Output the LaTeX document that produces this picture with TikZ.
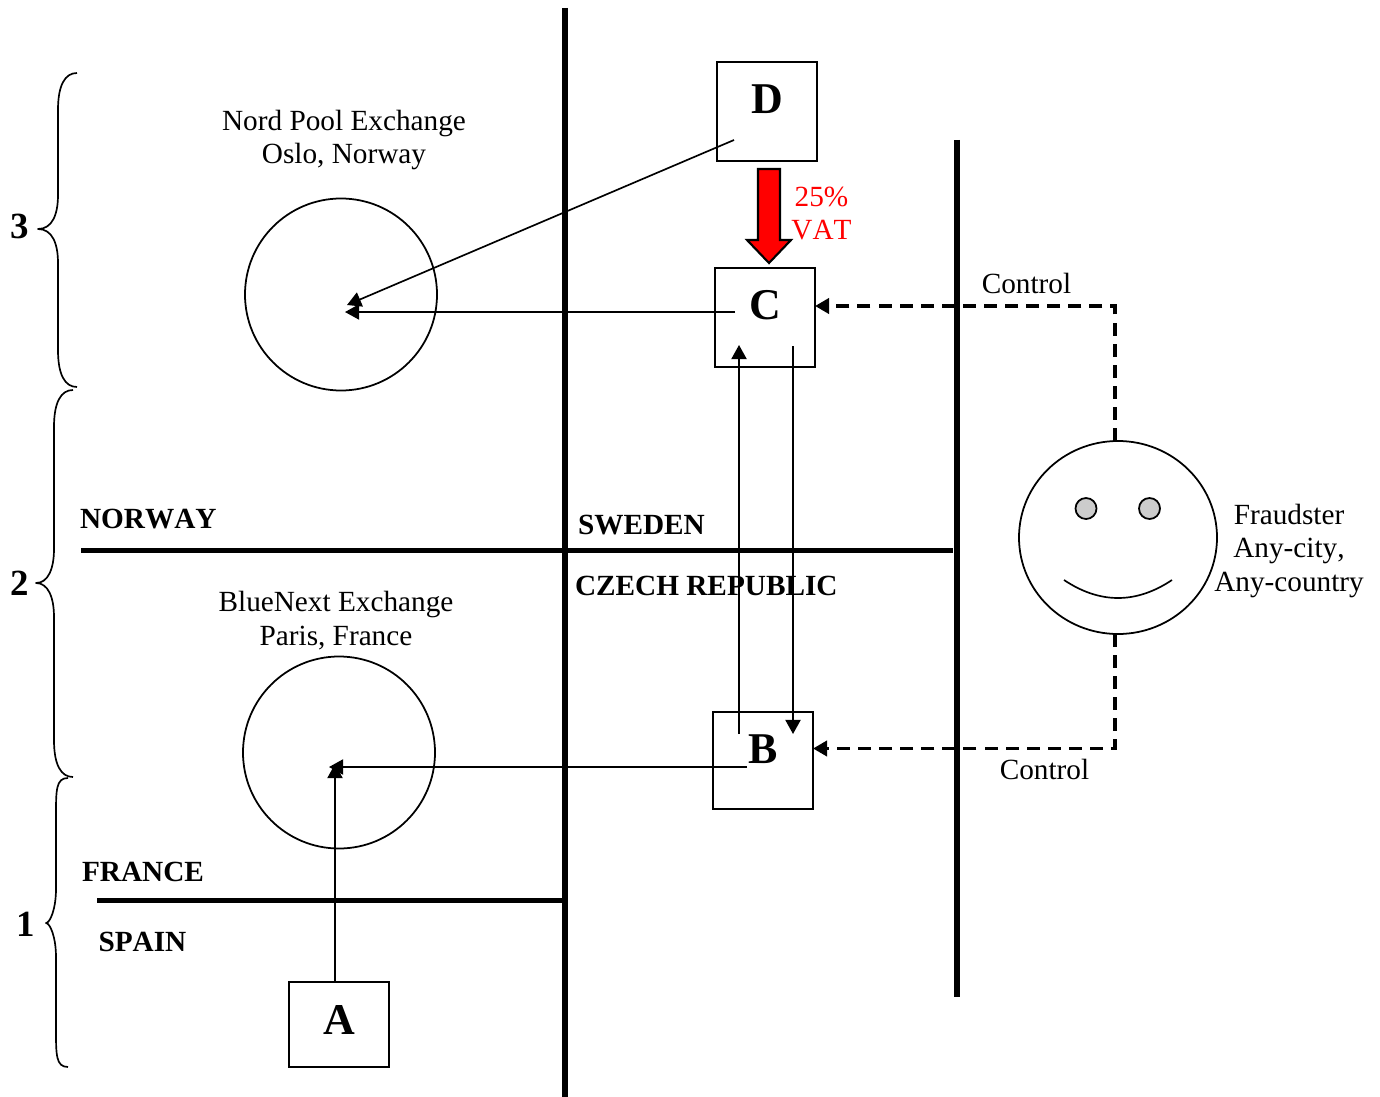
\documentclass[tikz,border=0pt]{standalone}
\usepackage{fontspec}
\setmainfont[Kerning=Off]{Liberation Serif}
\usetikzlibrary{arrows.meta,shapes.geometric}
\newcommand{\curlybrace}[6]{% x of spine, top, tip height, bottom, x of tip, x of ends
 \draw[bracket] (#6,#2) .. controls (#6-12,#2) and (#1,#2+12) .. (#1,#2+37) -- (#1,#3-34)
  .. controls (#1,#3-14) and (#1-6,#3) .. (#5,#3) .. controls (#1-6,#3) and (#1,#3+14) .. (#1,#3+34)
  -- (#1,#4-37) .. controls (#1,#4-12) and (#6-12,#4) .. (#6,#4);}
\tikzset{
 txt/.style={font=\fontsize{16.65}{19.3}\selectfont,align=center,inner sep=0pt,outer sep=0pt},
 country/.style={txt,font=\fontsize{16.65}{19.3}\selectfont\bfseries,anchor=west},
 letter/.style={txt,font=\fontsize{25}{28}\selectfont\bfseries},
 levelno/.style={txt,font=\fontsize{21}{24}\selectfont\bfseries},
 tradebox/.style={draw,line width=1pt,inner sep=0pt,outer sep=0pt},
 exchange/.style={draw,circle,line width=1pt,minimum size=3.84cm,inner sep=0pt,outer sep=0pt},
 border/.style={line width=2.9pt},
 trade/.style={line width=0.95pt,-{Triangle[length=8pt,width=8.6pt]}},
 ctrl/.style={line width=2pt,dash pattern=on 7.4pt off 4.6pt,-{Triangle[length=8pt,width=8.6pt]}},
 bracket/.style={line width=0.95pt,line join=round},
}
\begin{document}
\begin{tikzpicture}[x=0.2mm,y=-0.2mm]
 \useasboundingbox (0,0) rectangle (1380,1097);
 % borders
 \draw[border] (565,8) -- (565,1097);
 \draw[border] (957,140) -- (957,997);
 \draw[border] (81,550.5) -- (953,550.5);
 \draw[border] (97,900.5) -- (565,900.5);
 \node[country] (norway) at (80,519.5) {NORWAY};
 \node[country] (sweden) at (578,525.5) {SWEDEN};
 \node[country] (czech) at (575,585.5) {CZECH REPUBLIC};
 \node[country] (france) at (82,871.5) {FRANCE};
 \node[country] (spain) at (98.5,941.5) {SPAIN};
 % level braces
 \curlybrace{58}{73}{229}{387}{38}{77}
 \curlybrace{54}{390}{583}{777}{36}{73}
 \curlybrace{56}{778}{923}{1067}{46}{68}
 \node[levelno] (lvlthree) at (19.5,226) {3};
 \node[levelno] (lvltwo) at (19.5,583) {2};
 \node[levelno] (lvlone) at (25.5,924) {1};
 % exchanges
 \node[exchange] (oslo) at (341,294.5) {};
 \node[exchange] (paris) at (339,752.5) {};
 \node[txt] (oslotxt) at (344,140) {Nord Pool Exchange\\Oslo, Norway};
 \node[txt] (paristxt) at (336,620.5) {BlueNext Exchange\\Paris, France};
 % companies
 \node[tradebox,minimum width=2cm,minimum height=1.98cm] (boxD) at (767,111.5) {};
 \node[tradebox,minimum width=2cm,minimum height=1.98cm] (boxC) at (765,317.5) {};
 \node[tradebox,minimum width=2cm,minimum height=1.94cm] (boxB) at (763,760.5) {};
 \node[tradebox,minimum width=2cm,minimum height=1.7cm] (boxA) at (339,1024.5) {};
 \node[letter] (lblD) at (767,99) {D};
 \node[letter] (lblC) at (765,305) {C};
 \node[letter] (lblB) at (763,749) {B};
 \node[letter] (lblA) at (339,1020) {A};
 % trades
 \coordinate (aout) at (335,982);
 \coordinate (ain) at (335,764);
 \coordinate (bout) at (747,767);
 \coordinate (bin) at (329,767);
 \coordinate (bup) at (739,734);
 \coordinate (cdn) at (739,345);
 \coordinate (cout) at (793,346);
 \coordinate (bdn) at (793,734);
 \coordinate (cleft) at (735,312);
 \coordinate (oin) at (345,312);
 \coordinate (dout) at (734,140);
 \coordinate (din) at (347,305);
 \draw[trade] (aout) -- (ain);
 \draw[trade] (bout) -- (bin);
 \draw[trade] (bup) -- (cdn);
 \draw[trade] (cout) -- (bdn);
 \draw[trade] (cleft) -- (oin);
 \draw[trade] (dout) -- (din);
 % vat arrow
 \draw[line width=1.2pt,fill=red,miter limit=10] (758,169) -- (780,169) -- (780,240) -- (791,240)
  -- (769,263) -- (747,240) -- (758,240) -- cycle;
 \node[txt,text=red] (vat) at (821.5,213.5) {25\%\\VAT};
 % fraudster
 \node[draw,ellipse,line width=1pt,minimum width=3.96cm,minimum height=3.86cm,inner sep=0pt,outer sep=0pt] (face) at (1118,537.5) {};
 \node[draw,circle,fill=black!20,line width=1pt,minimum size=0.42cm,inner sep=0pt] (eyeL) at (1086,508.5) {};
 \node[draw,circle,fill=black!20,line width=1pt,minimum size=0.42cm,inner sep=0pt] (eyeR) at (1149.5,508.5) {};
 \draw[line width=0.95pt] (1064,580) .. controls (1100,604) and (1136,604) .. (1172,580);
 \node[txt] (fraud) at (1289,551) {Fraudster\\Any-city,\\Any-country};
 % control lines
 \coordinate (ftop) at (1115,441);
 \coordinate (fbot) at (1115,634);
 \coordinate (cin) at (815,306);
 \coordinate (bin2) at (813,748.5);
 \draw[ctrl] (ftop) |- (cin);
 \draw[ctrl] (fbot) |- (bin2);
 \node[txt] (ctrlC) at (1026.5,283.5) {Control};
 \node[txt] (ctrlB) at (1044.5,769.5) {Control};
\end{tikzpicture}
\end{document}
